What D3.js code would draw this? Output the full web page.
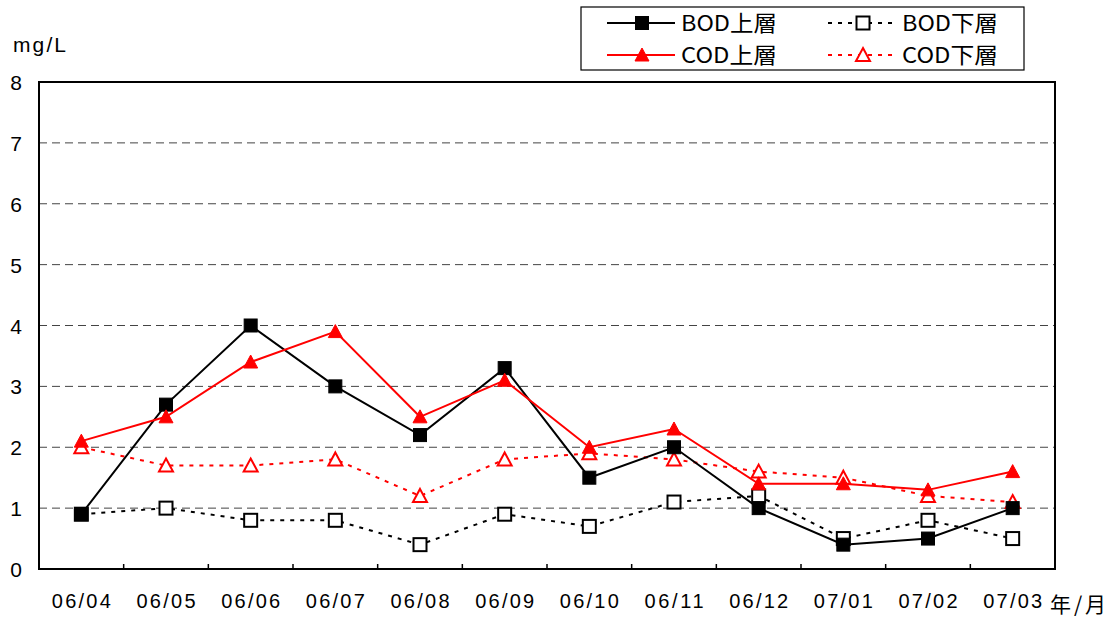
<!DOCTYPE html>
<html><head><meta charset="utf-8">
<script src="https://cdn.jsdelivr.net/npm/d3@7"></script>
<style>html,body{margin:0;padding:0;background:#fff;}svg{display:block;}</style>
</head><body>
<script>
const categories = ["06/04","06/05","06/06","06/07","06/08","06/09","06/10","06/11","06/12","07/01","07/02","07/03"];
const bodUpper = [0.9, 2.7, 4.0, 3.0, 2.2, 3.3, 1.5, 2.0, 1.0, 0.4, 0.5, 1.0];
const bodLower = [0.9, 1.0, 0.8, 0.8, 0.4, 0.9, 0.7, 1.1, 1.2, 0.5, 0.8, 0.5];
const codUpper = [2.1, 2.5, 3.4, 3.9, 2.5, 3.1, 2.0, 2.3, 1.4, 1.4, 1.3, 1.6];
const codLower = [2.0, 1.7, 1.7, 1.8, 1.2, 1.8, 1.9, 1.8, 1.6, 1.5, 1.2, 1.1];
const yTicks = [0,1,2,3,4,5,6,7,8];
const seriesNames = ["BOD上層","BOD下層","COD上層","COD下層"];

(function () {
const W = 1113, H = 619;
const pL = 39, pR = 1055, pT = 82, pB = 569;
const font = "'Liberation Sans', Arial, sans-serif";
const cjk = "'Noto Sans CJK JP', sans-serif";

const svg = d3.select("body").append("svg").attr("width", W).attr("height", H);

const x = d3.scaleBand().domain(categories).range([pL, pR]).padding(0);
const y = d3.scaleLinear().domain([0, 8]).range([pB, pT]);

// gridlines
svg.append("g").selectAll("line").data(yTicks.filter(t => t > 0 && t < 8)).join("line")
  .attr("x1", pL).attr("x2", pR)
  .attr("y1", d => y(d)).attr("y2", d => y(d))
  .attr("stroke", "#444").attr("stroke-width", 1).attr("stroke-dasharray", "8,5");

// frame
svg.append("rect").attr("x", pL).attr("y", pT).attr("width", pR - pL).attr("height", pB - pT)
  .attr("fill", "none").attr("stroke", "#000").attr("stroke-width", 2);

// x axis
const xAxis = d3.axisBottom(x).tickSize(0).tickFormat(d => d);
const gx = svg.append("g").attr("transform", `translate(0,${pB})`).call(xAxis);
gx.select(".domain").remove();
gx.selectAll("text").attr("font-family", font).attr("font-size", 20).attr("fill", "#000")
  .attr("dy", 0).attr("y", 39)
  .attr("textLength", 59).attr("lengthAdjust", "spacing");
svg.append("g").selectAll("line").data(categories.slice(1)).join("line")
  .attr("x1", d => x(d)).attr("x2", d => x(d))
  .attr("y1", pB).attr("y2", pB - 5)
  .attr("stroke", "#000").attr("stroke-width", 1.5);

// y axis labels
const yAxis = d3.axisLeft(y).tickValues(yTicks).tickSize(0).tickFormat(d3.format("d"));
const gy = svg.append("g").attr("transform", `translate(${pL},0)`).call(yAxis);
gy.select(".domain").remove();
gy.selectAll("text").attr("font-family", font).attr("font-size", 21).attr("fill", "#000")
  .attr("x", -17).attr("dy", "0.36em");

svg.append("text").attr("x", 13).attr("y", 52).attr("font-family", font).attr("font-size", 21)
  .attr("textLength", 53).attr("lengthAdjust", "spacing").text("mg/L");
svg.append("text").attr("x", 1050).attr("y", 612).attr("font-family", cjk).attr("font-size", 21)
  .attr("textLength", 56).attr("lengthAdjust", "spacing").text("年/月");

const line = d3.line().x((d, i) => x(categories[i]) + x.bandwidth() / 2).y(d => y(d));

const series = [
  {name: seriesNames[0], data: bodUpper, color: "#000", dash: null, marker: "square", filled: true},
  {name: seriesNames[1], data: bodLower, color: "#000", dash: "4,6", marker: "square", filled: false},
  {name: seriesNames[2], data: codUpper, color: "#f00", dash: null, marker: "triangle", filled: true},
  {name: seriesNames[3], data: codLower, color: "#f00", dash: "4,6", marker: "triangle", filled: false},
];

function drawMarker(g, cx, cy, s) {
  if (s.marker === "square") {
    g.append("rect").attr("x", cx - 6.5).attr("y", cy - 6.5).attr("width", 13).attr("height", 13)
      .attr("fill", s.filled ? "#000" : "#fff").attr("stroke", "#000").attr("stroke-width", s.filled ? 1 : 2);
  } else {
    const h = 12, w = 14;
    g.append("path").attr("d", `M${cx},${cy - h/2 - 1}L${cx + w/2},${cy + h/2}L${cx - w/2},${cy + h/2}Z`)
      .attr("fill", s.filled ? "#f00" : "#fff").attr("stroke", "#f00").attr("stroke-width", s.filled ? 1 : 2)
      .attr("stroke-linejoin", "miter");
  }
}

const order = [1, 3, 0, 2];
order.forEach(k => {
  const s = series[k];
  svg.append("path").datum(s.data).attr("d", line).attr("fill", "none")
    .attr("stroke", s.color).attr("stroke-width", 2).attr("stroke-dasharray", s.dash);
});
order.forEach(k => {
  const s = series[k];
  const g = svg.append("g");
  s.data.forEach((v, i) => drawMarker(g, x(categories[i]) + x.bandwidth() / 2, y(v), s));
});

// legend
const lg = svg.append("g");
lg.append("rect").attr("x", 581).attr("y", 7).attr("width", 443).attr("height", 63)
  .attr("fill", "#fff").attr("stroke", "#000").attr("stroke-width", 1.2);
const legPos = [
  {x1: 607, x2: 675, mx: 642, y: 23, tx: 681},
  {x1: 828, x2: 898, mx: 863, y: 23, tx: 902},
  {x1: 607, x2: 675, mx: 642, y: 55, tx: 681},
  {x1: 828, x2: 898, mx: 863, y: 55, tx: 902},
];
series.forEach((s, k) => {
  const p = legPos[k];
  lg.append("line").attr("x1", p.x1).attr("x2", p.x2).attr("y1", p.y).attr("y2", p.y)
    .attr("stroke", s.color).attr("stroke-width", 2).attr("stroke-dasharray", s.dash);
  drawMarker(lg, p.mx, p.y, s);
  lg.append("text").attr("x", p.tx).attr("y", p.y).attr("dy", "0.36em")
    .attr("font-family", cjk).attr("font-size", 22)
    .attr("textLength", 96).attr("lengthAdjust", "spacingAndGlyphs").text(s.name);
});
})();
</script>
</body></html>
